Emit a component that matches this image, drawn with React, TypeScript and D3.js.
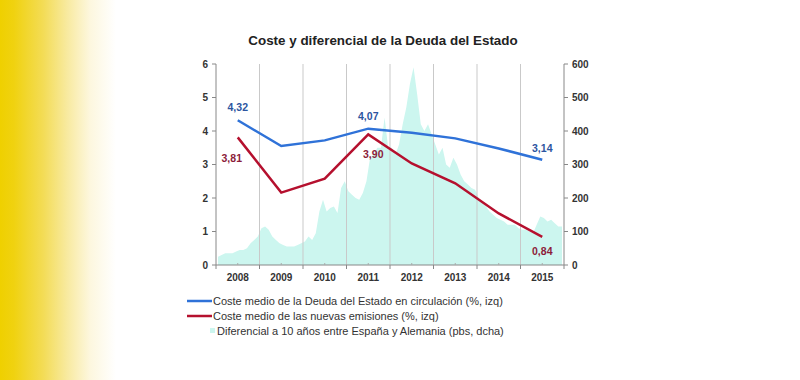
import React from "react";
import * as d3 from "d3";

const years = ["2008", "2009", "2010", "2011", "2012", "2013", "2014", "2015"];
const costeCirculacion = [4.32, 3.55, 3.72, 4.07, 3.95, 3.78, 3.48, 3.14];
const costeNuevas = [3.81, 2.16, 2.58, 3.9, 3.03, 2.44, 1.54, 0.84];
const labelsCirculacion = ["4,32", "", "", "4,07", "", "", "", "3,14"];
const labelsNuevas = ["3,81", "", "", "3,90", "", "", "", "0,84"];
// monthly spread Spain-Germany 10y (bps), Jan 2008 .. Dec 2015
const spread = [
  25, 30, 35, 35, 35, 40, 45, 45, 50, 65, 75, 85,
  110, 115, 105, 85, 75, 65, 60, 55, 55, 55, 60, 65,
  70, 85, 75, 95, 160, 195, 160, 170, 175, 155, 230, 250,
  220, 210, 200, 195, 215, 250, 320, 330, 350, 350, 440, 350,
  350, 330, 360, 420, 470, 540, 590, 510, 420, 400, 420, 390,
  360, 330, 350, 300, 290, 320, 300, 270, 250, 240, 230, 225,
  200, 185, 175, 160, 150, 140, 135, 130, 120, 120, 120, 110,
  105, 105, 100, 95, 120, 145, 140, 130, 135, 125, 115, 115,
];
const leftTicks = [0, 1, 2, 3, 4, 5, 6];
const rightTicks = [0, 100, 200, 300, 400, 500, 600];
const legendItems = [
  "Coste medio de la Deuda del Estado en circulación (%, izq)",
  "Coste medio de las nuevas emisiones (%, izq)",
  "Diferencial a 10 años entre España y Alemania (pbs, dcha)",
];

const BLUE = "#2f72d8";
const RED = "#b5102e";
const BLUE_TXT = "#2d55a0";
const RED_TXT = "#8c1c3a";
const AREA = "#ccf6ef";
const FONT = "Liberation Sans, Arial, sans-serif";

export default function App() {
  const left = 216, right = 564, top = 64, bottom = 265;
  const x = d3.scaleBand<string>().domain(years).range([left, right]).paddingInner(0).paddingOuter(0);
  const xc = (i: number) => (x(years[i]) as number) + x.bandwidth() / 2;
  const yL = d3.scaleLinear().domain([0, 6]).range([bottom, top]);
  const yR = d3.scaleLinear().domain([0, 600]).range([bottom, top]);
  const xt = d3.scaleLinear().domain([0, spread.length - 1]).range([left + 2, right - 2]);

  const area = d3
    .area<number>()
    .x((_, i) => xt(i))
    .y0(bottom)
    .y1((d) => yR(d));
  const line = d3
    .line<number>()
    .x((_, i) => xc(i))
    .y((d) => yL(d));

  const boundaries = years.slice(1).map((y) => x(y) as number);

  return (
    <svg
      width={800}
      height={380}
      style={{ position: "absolute", left: 0, top: 0, background: "#fff" }}
      fontFamily={FONT}
    >
      <defs>
        <linearGradient id="yel" x1="0" x2="1" y1="0" y2="0">
          <stop offset="0" stopColor="#efd000" />
          <stop offset="0.12" stopColor="#f0d210" />
          <stop offset="0.37" stopColor="#f3dc55" />
          <stop offset="0.58" stopColor="#f8eaa0" />
          <stop offset="0.78" stopColor="#fdf7df" />
          <stop offset="1" stopColor="#ffffff" />
        </linearGradient>
      </defs>
      <rect x={0} y={0} width={116} height={380} fill="url(#yel)" />

      <text x={383} y={45} textAnchor="middle" fontSize={13.4} fontWeight="bold" fill="#222">
        Coste y diferencial de la Deuda del Estado
      </text>

      <path d={area(spread) || ""} fill={AREA} />

      {boundaries.map((bx, i) => (
        <line key={i} x1={bx} x2={bx} y1={top} y2={bottom} stroke="#c9c9c9" strokeWidth={1} />
      ))}

      {/* axes */}
      <line x1={left} x2={left} y1={top} y2={bottom} stroke="#888" />
      <line x1={right} x2={right} y1={top} y2={bottom} stroke="#888" />
      <line x1={left} x2={right} y1={bottom} y2={bottom} stroke="#888" />
      {leftTicks.map((t) => (
        <g key={t}>
          <line x1={left - 4} x2={left} y1={yL(t)} y2={yL(t)} stroke="#888" />
          <text x={left - 8} y={yL(t)} dy="0.35em" textAnchor="end" fontSize={10} fontWeight="bold" fill="#333">
            {t}
          </text>
        </g>
      ))}
      {rightTicks.map((t) => (
        <g key={t}>
          <line x1={right} x2={right + 4} y1={yR(t)} y2={yR(t)} stroke="#888" />
          <text x={right + 8} y={yR(t)} dy="0.35em" textAnchor="start" fontSize={10} fontWeight="bold" fill="#333">
            {t}
          </text>
        </g>
      ))}
      {[left, ...boundaries, right].map((bx, i) => (
        <line key={i} x1={bx} x2={bx} y1={bottom} y2={bottom + 4} stroke="#888" />
      ))}
      {years.map((yr, i) => (
        <g key={yr}>
          <line x1={xc(i)} x2={xc(i)} y1={bottom - 2} y2={bottom} stroke="#aaa" />
          <text x={xc(i)} y={281} textAnchor="middle" fontSize={10} fontWeight="bold" fill="#333">
            {yr}
          </text>
        </g>
      ))}

      <path d={line(costeNuevas) || ""} fill="none" stroke={RED} strokeWidth={2.5} />
      <path d={line(costeCirculacion) || ""} fill="none" stroke={BLUE} strokeWidth={2.5} />

      {/* data labels */}
      <text x={xc(0)} y={yL(costeCirculacion[0]) - 9} textAnchor="middle" fontSize={10.5} fontWeight="bold" fill={BLUE_TXT}>
        {labelsCirculacion[0]}
      </text>
      <text x={xc(3)} y={yL(costeCirculacion[3]) - 9} textAnchor="middle" fontSize={10.5} fontWeight="bold" fill={BLUE_TXT}>
        {labelsCirculacion[3]}
      </text>
      <text x={xc(7)} y={yL(costeCirculacion[7]) - 8} textAnchor="middle" fontSize={10.5} fontWeight="bold" fill={BLUE_TXT}>
        {labelsCirculacion[7]}
      </text>
      <text x={xc(0) - 6} y={yL(costeNuevas[0]) + 25} textAnchor="middle" fontSize={10.5} fontWeight="bold" fill={RED_TXT}>
        {labelsNuevas[0]}
      </text>
      <text x={xc(3) + 5} y={yL(costeNuevas[3]) + 24} textAnchor="middle" fontSize={10.5} fontWeight="bold" fill={RED_TXT}>
        {labelsNuevas[3]}
      </text>
      <text x={xc(7)} y={yL(costeNuevas[7]) + 18} textAnchor="middle" fontSize={10.5} fontWeight="bold" fill={RED_TXT}>
        {labelsNuevas[7]}
      </text>

      {/* legend */}
      <line x1={187} x2={212} y1={301} y2={301} stroke={BLUE} strokeWidth={2.5} />
      <text x={213} y={301} dy="0.35em" fontSize={11} fill="#333">{legendItems[0]}</text>
      <line x1={187} x2={212} y1={316} y2={316} stroke={RED} strokeWidth={2.5} />
      <text x={213} y={316} dy="0.35em" fontSize={11} fill="#333">{legendItems[1]}</text>
      <rect x={210} y={328} width={5} height={5} fill={AREA} />
      <text x={217} y={331} dy="0.35em" fontSize={11} fill="#333">{legendItems[2]}</text>
    </svg>
  );
}
